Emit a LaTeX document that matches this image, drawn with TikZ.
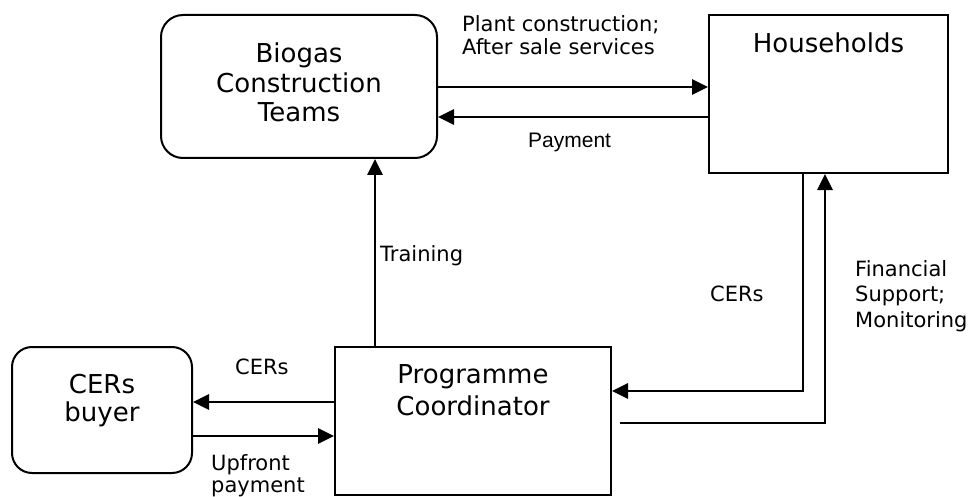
\documentclass[tikz,border=0pt]{standalone}
\usepackage{fontspec}
\setmainfont{DejaVu Sans}
\newfontfamily\arialf{Liberation Sans}
\usetikzlibrary{arrows.meta}
\begin{document}
\begin{tikzpicture}[x=1pt,y=-1pt,
  boxrect/.style={draw,line width=2pt,rectangle,inner sep=0pt},
  boxround/.style={boxrect,rounded corners=22pt},
  bigtxt/.style={anchor=base,inner sep=0pt,font=\fontsize{26}{30}\selectfont},
  lbl/.style={anchor=base west,inner sep=0pt,font=\fontsize{21}{24}\selectfont},
  arr/.style={line width=2.8pt,-{Triangle[length=16pt,width=15pt]}}]
\useasboundingbox (0,0) rectangle (968,497);
% boxes
\node[boxround,minimum width=276pt,minimum height=143pt] (biogas) at (299,86.5) {};
\node[boxrect,minimum width=239pt,minimum height=158pt] (house) at (828.5,94) {};
\node[boxrect,minimum width=276pt,minimum height=148pt] (pc) at (473,421) {};
\node[boxround,rounded corners=20pt,minimum width=180pt,minimum height=126pt] (buyer) at (102,410) {};
% box texts
\node[bigtxt] (bt1) at (299,63) {Biogas};
\node[bigtxt] (bt2) at (299,93) {Construction};
\node[bigtxt] (bt3) at (299,122) {Teams};
\node[bigtxt] (ht) at (828.5,53) {Households};
\node[bigtxt] (pt1) at (473,383) {Programme};
\node[bigtxt] (pt2) at (473,415) {Coordinator};
\node[bigtxt] (ct1) at (102,393) {CERs};
\node[bigtxt] (ct2) at (102,421) {buyer};
% helper coordinates
\coordinate (yPlant) at (0,87);
\coordinate (yPay) at (0,117);
\coordinate (xTr) at (375,0);
\coordinate (yCl) at (0,402);
\coordinate (yUp) at (0,436);
\coordinate (xHC) at (803,0);
\coordinate (yHC) at (0,391);
\coordinate (xF) at (825,0);
\coordinate (fs) at (620,423);
% connectors
\draw[arr] (biogas.east |- yPlant) -- (house.west |- yPlant);
\draw[arr] (house.west |- yPay) -- (biogas.east |- yPay);
\draw[arr] (xTr |- pc.north) -- (xTr |- biogas.south);
\draw[arr] (pc.west |- yCl) -- (buyer.east |- yCl);
\draw[arr] (buyer.east |- yUp) -- (pc.west |- yUp);
\draw[arr] (xHC |- house.south) -- (xHC |- yHC) -- (pc.east |- yHC);
\draw[arr] (fs) -- (xF |- fs) -- (xF |- house.south);
% labels
\node[lbl] (l1) at (462,32) {Plant construction;};
\node[lbl] (l2) at (462,55) {After sale services};
\node[lbl,font=\arialf\fontsize{21}{24}\selectfont] (l3) at (528,148) {Payment};
\node[lbl] (l4) at (380,261) {Training};
\node[lbl] (l5) at (235,374) {CERs};
\node[lbl] (l6) at (211,470) {Upfront};
\node[lbl] (l7) at (211,492) {payment};
\node[lbl] (l8) at (710,301) {CERs};
\node[lbl] (l9) at (855,276) {Financial};
\node[lbl] (l10) at (855,301) {Support;};
\node[lbl] (l11) at (855,327) {Monitoring};
\end{tikzpicture}
\end{document}
